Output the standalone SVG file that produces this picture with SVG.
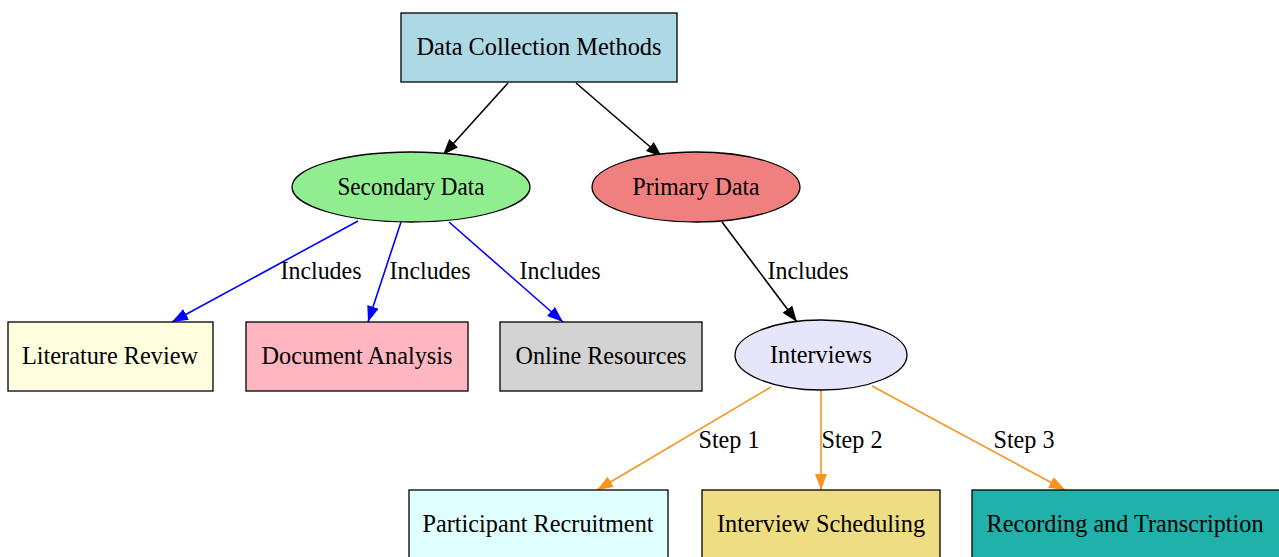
<svg xmlns="http://www.w3.org/2000/svg" width="1279" height="557" viewBox="0 0 1279 557">
<style>
text{font-family:"Liberation Serif","Times New Roman",serif;font-size:25px;fill:#000;text-anchor:middle}
.n{stroke:#000;stroke-width:1.3}
.e{fill:none;stroke-width:1.6}
.k{stroke:#000}.b{stroke:#0000ff}.o{stroke:#f7931e}
</style>
<defs>
<marker id="ak" markerUnits="userSpaceOnUse" markerWidth="18" markerHeight="14" refX="16" refY="6" orient="auto"><path d="M0,0 L16,6 L0,12 z" fill="#000"/></marker>
<marker id="ab" markerUnits="userSpaceOnUse" markerWidth="18" markerHeight="14" refX="16" refY="6" orient="auto"><path d="M0,0 L16,6 L0,12 z" fill="#0000ff"/></marker>
<marker id="ao" markerUnits="userSpaceOnUse" markerWidth="18" markerHeight="14" refX="16" refY="6" orient="auto"><path d="M0,0 L16,6 L0,12 z" fill="#f7931e"/></marker>
</defs>
<rect width="1279" height="557" fill="#fff"/>
<g id="connectors">
<line class="e k" x1="508" y1="83" x2="443" y2="155" marker-end="url(#ak)"/>
<line class="e k" x1="576" y1="83" x2="662" y2="157" marker-end="url(#ak)"/>
<line class="e b" x1="358" y1="221" x2="172" y2="322" marker-end="url(#ab)"/>
<line class="e b" x1="401" y1="222" x2="368" y2="322" marker-end="url(#ab)"/>
<line class="e b" x1="449" y1="222" x2="563" y2="322" marker-end="url(#ab)"/>
<line class="e k" x1="722" y1="222" x2="797" y2="322" marker-end="url(#ak)"/>
<line class="e o" x1="771" y1="387" x2="597" y2="490" marker-end="url(#ao)"/>
<line class="e o" x1="821" y1="390" x2="821" y2="490" marker-end="url(#ao)"/>
<line class="e o" x1="872" y1="386" x2="1065" y2="490" marker-end="url(#ao)"/>
<text x="321" y="279" textLength="81" lengthAdjust="spacingAndGlyphs">Includes</text>
<text x="430" y="279" textLength="81" lengthAdjust="spacingAndGlyphs">Includes</text>
<text x="560" y="279" textLength="81" lengthAdjust="spacingAndGlyphs">Includes</text>
<text x="808" y="279" textLength="81" lengthAdjust="spacingAndGlyphs">Includes</text>
<text x="729" y="448" textLength="61" lengthAdjust="spacingAndGlyphs">Step 1</text>
<text x="852" y="448" textLength="61" lengthAdjust="spacingAndGlyphs">Step 2</text>
<text x="1024" y="448" textLength="61" lengthAdjust="spacingAndGlyphs">Step 3</text>
</g>
<g id="dcm"><rect class="n" x="401" y="13" width="276" height="69" fill="#add8e6"/><text x="539" y="55" textLength="245" lengthAdjust="spacingAndGlyphs">Data Collection Methods</text></g>
<g id="secondary"><ellipse class="n" cx="411" cy="187" rx="119" ry="35" fill="#90ee90"/><text x="411" y="195" textLength="147" lengthAdjust="spacingAndGlyphs">Secondary Data</text></g>
<g id="primary"><ellipse class="n" cx="696" cy="187" rx="104" ry="35" fill="#f08080"/><text x="696" y="195" textLength="127" lengthAdjust="spacingAndGlyphs">Primary Data</text></g>
<g id="literature"><rect class="n" x="8" y="322" width="205" height="69" fill="#ffffe0"/><text x="110" y="364" textLength="176" lengthAdjust="spacingAndGlyphs">Literature Review</text></g>
<g id="document"><rect class="n" x="246" y="322" width="222" height="69" fill="#ffb6c1"/><text x="357" y="364" textLength="191" lengthAdjust="spacingAndGlyphs">Document Analysis</text></g>
<g id="online"><rect class="n" x="500" y="322" width="202" height="69" fill="#d3d3d3"/><text x="601" y="364" textLength="171" lengthAdjust="spacingAndGlyphs">Online Resources</text></g>
<g id="interviews"><ellipse class="n" cx="821" cy="355" rx="86" ry="35" fill="#e6e6fa"/><text x="821" y="363" textLength="102" lengthAdjust="spacingAndGlyphs">Interviews</text></g>
<g id="recruitment"><rect class="n" x="409" y="490" width="259" height="69" fill="#e0ffff"/><text x="538" y="532" textLength="231" lengthAdjust="spacingAndGlyphs">Participant Recruitment</text></g>
<g id="scheduling"><rect class="n" x="702" y="490" width="238" height="69" fill="#eedd82"/><text x="821" y="532" textLength="208" lengthAdjust="spacingAndGlyphs">Interview Scheduling</text></g>
<g id="recording"><rect class="n" x="972" y="490" width="308" height="69" fill="#20b2aa"/><text x="1125" y="532" textLength="277" lengthAdjust="spacingAndGlyphs">Recording and Transcription</text></g>
</svg>
